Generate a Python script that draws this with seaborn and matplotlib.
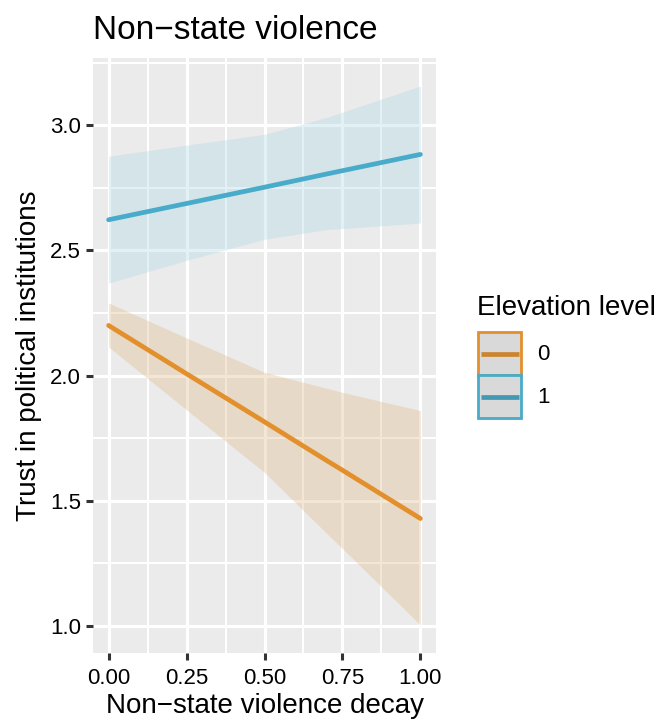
import pandas as pd
import seaborn as sns
import matplotlib.pyplot as plt
from matplotlib.patches import Rectangle
from matplotlib.lines import Line2D
from matplotlib.legend_handler import HandlerBase
from matplotlib.ticker import MultipleLocator

# predicted trust with confidence band
decay = [0.0, 0.25, 0.5, 0.7, 0.75, 1.0]
fit_0 = [2.200, 2.007, 1.815, 1.660, 1.622, 1.429]
low_0 = [2.114, 1.863, 1.613, 1.369, 1.309, 1.004]
high_0 = [2.290, 2.150, 2.013, 1.949, 1.933, 1.860]
fit_1 = [2.622, 2.687, 2.752, 2.805, 2.818, 2.883]
low_1 = [2.369, 2.460, 2.544, 2.583, 2.587, 2.609]
high_1 = [2.876, 2.920, 2.963, 3.031, 3.052, 3.156]

levels = ['0', '1']
line_colors = ['#E28F2C', '#47ABC9']
key_line_colors = ['#CB8530', '#4399B3']
ribbon_colors = ['#DEB887', '#ADD8E6']

df = pd.DataFrame({
    'decay': decay * 2,
    'trust': fit_0 + fit_1,
    'lo': low_0 + low_1,
    'hi': high_0 + high_1,
    'level': [levels[0]] * len(decay) + [levels[1]] * len(decay),
})


class KeyHandler(HandlerBase):
    # ggplot-like key: grey box with coloured border and a centred line
    def __init__(self, line_color):
        super().__init__()
        self.line_color = line_color

    def create_artists(self, legend, orig_handle, xdescent, ydescent,
                       width, height, fontsize, trans):
        x0, y0 = -xdescent, -ydescent
        rect = Rectangle((x0, y0), width, height, facecolor='#D9D9D9',
                         edgecolor=orig_handle.get_edgecolor(), linewidth=2,
                         transform=trans)
        ym = y0 + height / 2
        line = Line2D([x0 + 2, x0 + width - 2], [ym, ym], color=self.line_color,
                      linewidth=3.4, solid_capstyle='butt', transform=trans)
        return [rect, line]


sns.set_theme(style='darkgrid', rc={'axes.facecolor': '#EBEBEB', 'grid.color': 'white',
                                    'text.color': 'black', 'axes.labelcolor': 'black'})
plt.rcParams['font.family'] = ['Liberation Sans', 'DejaVu Sans']

fig = plt.figure(figsize=(6.58, 7.19), dpi=100)
ax = fig.add_axes([93 / 658, 1 - 653 / 719, (436 - 93) / 658, (653 - 58) / 719])

for lev, rc in zip(levels, ribbon_colors):
    sub = df[df['level'] == lev]
    ax.fill_between(sub['decay'], sub['lo'], sub['hi'], color=rc, alpha=0.35,
                    linewidth=0, zorder=2)

sns.lineplot(data=df, x='decay', y='trust', hue='level',
             palette=dict(zip(levels, line_colors)), linewidth=3.4,
             legend=False, ax=ax, zorder=3)

ax.set_xlim(-0.05, 1.05)
ax.set_ylim(0.892, 3.268)
ax.xaxis.set_major_locator(MultipleLocator(0.25))
ax.xaxis.set_minor_locator(MultipleLocator(0.125))
ax.yaxis.set_major_locator(MultipleLocator(0.5))
ax.yaxis.set_minor_locator(MultipleLocator(0.25))
ax.xaxis.set_major_formatter(plt.FuncFormatter(lambda v, p: f'{v:.2f}'))
ax.yaxis.set_major_formatter(plt.FuncFormatter(lambda v, p: f'{v:.1f}'))
ax.grid(which='major', color='white', linewidth=2.3)
ax.grid(which='minor', color='white', linewidth=1.5)
ax.set_axisbelow(True)
for s in ax.spines.values():
    s.set_visible(False)
ax.tick_params(which='major', bottom=True, left=True, length=5, width=2.2,
               color='#333333', labelsize=16, labelcolor='black', pad=3.5)
ax.tick_params(axis='x', which='major', pad=5.5)
ax.tick_params(which='minor', length=0)

ax.set_title('Non\u2212state violence', loc='left', fontsize=24, pad=14)
ax.set_xlabel('Non\u2212state violence decay', fontsize=20, labelpad=3)
ax.set_ylabel('Trust in political institutions', fontsize=20, labelpad=6)

handles = [Rectangle((0, 0), 1, 1, edgecolor=c) for c in line_colors]
fig.text(477 / 658, 1 - 315 / 719, 'Elevation level', fontsize=20, va='baseline')
fig.legend(handles, levels, loc='upper left',
           bbox_to_anchor=(478 / 658, 1 - 332 / 719), frameon=False,
           handler_map={h: KeyHandler(kc) for h, kc in zip(handles, key_line_colors)},
           fontsize=16, handlelength=1.95, handleheight=2.6,
           handletextpad=0.7, labelspacing=0, borderpad=0, borderaxespad=0)

fig.savefig('out.png', dpi=100)
